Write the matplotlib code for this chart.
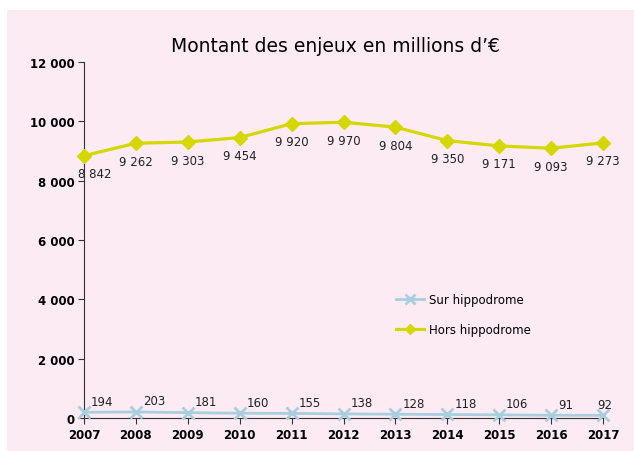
import matplotlib.pyplot as plt
from matplotlib.patches import Rectangle

# Data
years = [2007, 2008, 2009, 2010, 2011, 2012, 2013, 2014, 2015, 2016, 2017]
sur_hippo = [194, 203, 181, 160, 155, 138, 128, 118, 106, 91, 92]
hors_hippo = [8842, 9262, 9303, 9454, 9920, 9970, 9804, 9350, 9171, 9093, 9273]
y_ticks = [0, 2000, 4000, 6000, 8000, 10000, 12000]

pink = "#FDEBF3"
yellow = "#D4D800"
blue = "#A9CEDE"

fig = plt.figure(figsize=(6.34, 4.52), dpi=100, facecolor="white")
W, H = 634, 452

# pink chart area (behind everything)
fig.patches.append(Rectangle((7 / W, 0), 1 - 7 / W, 1 - 11 / H,
                             transform=fig.transFigure, facecolor=pink,
                             edgecolor="none", zorder=-10))

ax = fig.add_axes([84 / W, 1 - 419 / H, (603 - 84) / W, (419 - 63) / H])
ax.set_facecolor("none")
ax.set_zorder(5)

ax.plot(years, sur_hippo, color=blue, lw=2, marker="x", markersize=9,
        markeredgewidth=2, label="Sur hippodrome", clip_on=False, zorder=3)
ax.plot(years, hors_hippo, color=yellow, lw=2.3, marker="D", markersize=7,
        label="Hors hippodrome", clip_on=False, zorder=3)

def fmt(v):
    return f"{v:,}".replace(",", " ")

for x, v in zip(years, hors_hippo):
    dx = 8 if x == years[0] else 0
    ax.annotate(fmt(v), (x, v), xytext=(dx, -13), textcoords="offset points",
                ha="center", va="center", fontsize=8.5, color="#222222")

for x, v in zip(years, sur_hippo):
    dx = 5 if x != years[-1] else -4
    ax.annotate(fmt(v), (x, v), xytext=(dx, 8), textcoords="offset points",
                ha="left", va="center", fontsize=8.5, color="#222222")

ax.set_xlim(2007, 2017)
ax.set_ylim(0, 12000)
ax.set_xticks(years)
ax.set_yticks(y_ticks)
ax.set_yticklabels([fmt(t) for t in y_ticks])
for lab in ax.get_xticklabels() + ax.get_yticklabels():
    lab.set_fontweight("bold")
    lab.set_fontsize(8.5)
ax.tick_params(axis="both", direction="out", length=4, width=0.8,
               color="#333333", pad=3)

for s in ["top", "right"]:
    ax.spines[s].set_visible(False)
for s in ["left", "bottom"]:
    ax.spines[s].set_color("#333333")
    ax.spines[s].set_linewidth(0.8)

fig.text(335 / W, 1 - 46 / H, "Montant des enjeux en millions d\u2019\u20ac",
         ha="center", va="center", fontsize=13.5)

ax.legend(loc="upper left", bbox_to_anchor=(0.58, 0.38), frameon=False,
          fontsize=8.5, handlelength=2.4, handletextpad=0.4, labelspacing=1.45,
          markerscale=0.8)

plt.savefig("out.png", dpi=100, facecolor="white")
